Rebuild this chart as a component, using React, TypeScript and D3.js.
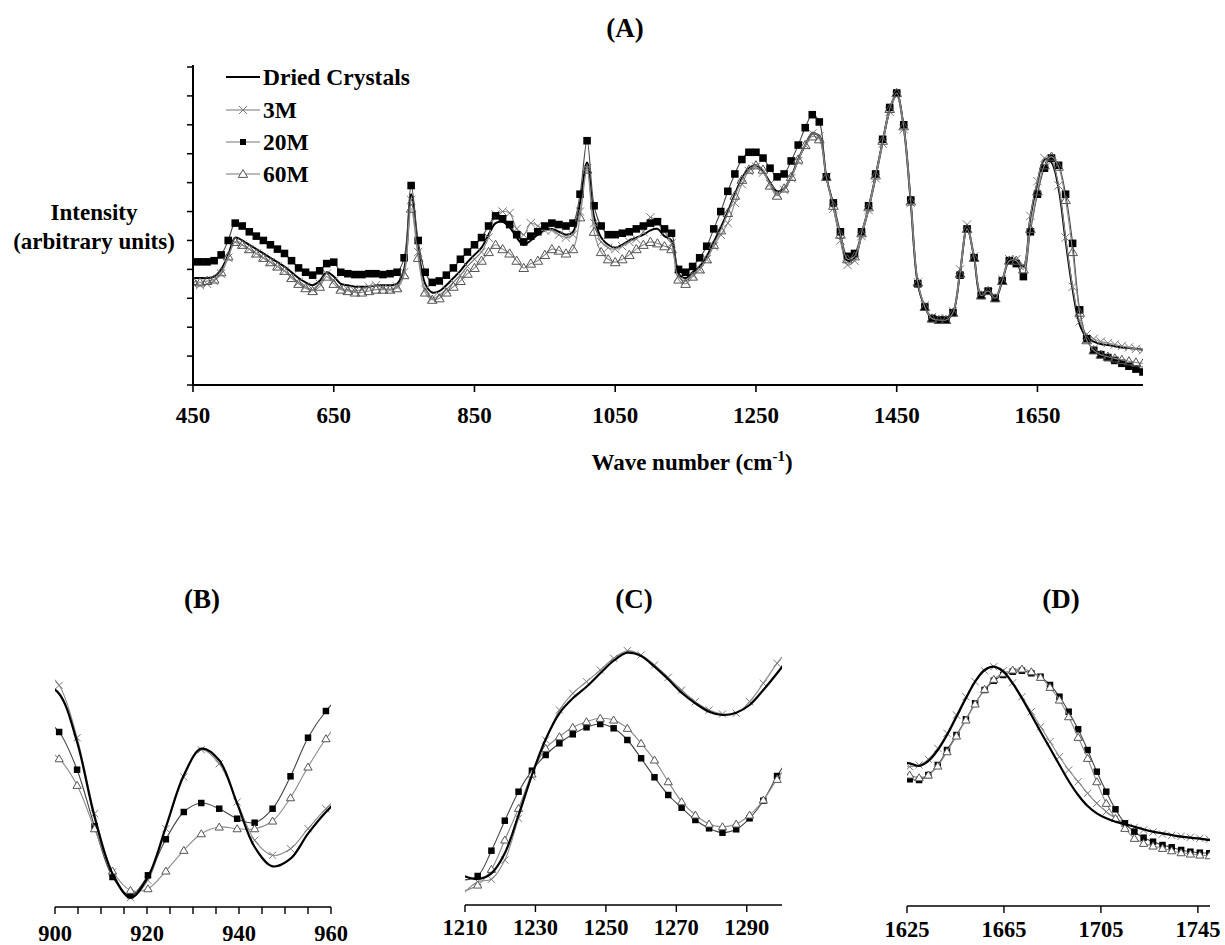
import React from 'react';
import * as d3 from 'd3';

// ---- panel A: full spectrum, one point every 10 cm-1 ----
const waveA = [450,460,470,480,490,500,510,520,530,540,550,560,570,580,590,600,610,620,630,640,650,660,670,680,690,700,710,720,730,740,750,760,770,780,790,800,810,820,830,840,850,860,870,880,890,900,910,920,930,940,950,960,970,980,990,1000,1010,1020,1030,1040,1050,1060,1070,1080,1090,1100,1110,1120,1130,1140,1150,1160,1170,1180,1190,1200,1210,1220,1230,1240,1250,1260,1270,1280,1290,1300,1310,1320,1330,1340,1350,1360,1370,1380,1390,1400,1410,1420,1430,1440,1450,1460,1470,1480,1490,1500,1510,1520,1530,1540,1550,1560,1570,1580,1590,1600,1610,1620,1630,1640,1650,1660,1670,1680,1690,1700,1710,1720,1730,1740,1750,1760,1770,1780,1790,1800];

const driedA = [
  3.7,3.7,3.7,3.75,4.0,4.5,5.1,5.0,4.85,4.7,
  4.55,4.4,4.25,4.1,3.9,3.7,3.55,3.45,3.6,3.9,
  3.75,3.5,3.45,3.4,3.4,3.4,3.45,3.45,3.45,3.5,
  4.0,6.6,4.7,3.5,3.2,3.25,3.45,3.7,3.95,4.25,
  4.5,4.75,5.2,5.6,5.65,5.45,5.1,4.85,5.0,5.2,
  5.35,5.4,5.3,5.2,5.3,6.3,7.7,5.8,5.1,4.85,
  4.75,4.85,5.0,5.1,5.2,5.35,5.4,5.15,5.0,3.85,
  3.7,3.9,4.1,4.45,4.95,5.45,6.0,6.6,7.15,7.5,
  7.6,7.4,7.0,6.7,6.8,7.2,7.8,8.3,8.7,8.6,
  7.2,6.2,5.1,4.3,4.4,5.2,6.1,7.2,8.4,9.5,
  10.05,8.9,6.3,3.5,2.7,2.3,2.25,2.25,2.5,3.9,
  5.45,4.4,3.1,3.2,3.0,3.6,4.3,4.3,4.1,5.8,
  7.0,7.8,7.7,6.8,5.0,3.3,2.1,1.65,1.5,1.42,
  1.38,1.34,1.3,1.28,1.25,1.22,
];
const m3A = [
  3.5,3.45,3.5,3.6,3.85,4.4,4.95,4.85,4.7,4.55,
  4.4,4.25,4.1,3.95,3.75,3.55,3.4,3.3,3.5,3.85,
  3.6,3.35,3.3,3.25,3.3,3.4,3.45,3.35,3.3,3.4,
  3.9,6.4,4.6,3.3,3.0,3.1,3.3,3.55,3.8,4.1,
  4.35,4.6,5.1,5.9,6.0,5.95,5.4,5.2,5.6,5.5,
  5.35,5.35,5.2,5.1,5.2,6.0,7.5,5.6,4.95,4.75,
  4.7,4.8,4.95,5.05,5.3,5.8,5.6,5.3,4.9,3.75,
  3.6,3.8,4.0,4.35,4.8,5.2,5.6,6.3,6.95,7.4,
  7.55,7.35,6.95,6.6,6.75,7.15,7.75,8.3,8.7,8.6,
  7.2,6.1,5.0,4.15,4.3,5.15,6.05,7.15,8.35,9.45,
  10.0,8.85,6.3,3.55,2.75,2.35,2.3,2.3,2.55,4.0,
  5.55,4.45,3.15,3.2,3.05,3.65,4.35,4.35,4.15,5.85,
  7.05,7.85,7.75,6.9,5.1,3.4,2.2,1.75,1.6,1.5,
  1.45,1.4,1.35,1.3,1.25,1.2,
];
const m20A = [
  4.26,4.26,4.26,4.3,4.5,5.0,5.6,5.5,5.3,5.15,
  5.0,4.85,4.7,4.55,4.3,4.05,3.9,3.8,3.95,4.2,
  4.25,3.9,3.85,3.82,3.82,3.85,3.85,3.82,3.85,3.9,
  4.4,6.9,5.0,3.9,3.55,3.6,3.8,4.05,4.35,4.6,
  4.85,5.1,5.5,5.85,5.75,5.55,5.2,4.95,5.15,5.3,
  5.5,5.6,5.55,5.5,5.6,6.6,8.45,6.2,5.5,5.2,
  5.2,5.25,5.3,5.4,5.5,5.6,5.65,5.4,5.25,4.0,
  3.9,4.1,4.4,4.8,5.4,6.0,6.7,7.3,7.8,8.05,
  8.05,7.85,7.5,7.2,7.3,7.75,8.3,8.9,9.35,9.1,
  7.2,6.3,5.3,4.45,4.55,5.3,6.2,7.3,8.5,9.6,
  10.1,9.0,6.4,3.5,2.7,2.3,2.25,2.25,2.5,3.8,
  5.4,4.4,3.1,3.25,3.0,3.6,4.3,4.2,3.75,5.3,
  6.6,7.5,7.85,7.6,6.6,4.9,2.6,1.6,1.2,1.05,
  0.95,0.85,0.75,0.65,0.55,0.45,
];
const m60A = [
  3.6,3.55,3.6,3.65,3.9,4.45,4.95,4.85,4.7,4.55,
  4.4,4.25,4.1,3.95,3.7,3.5,3.35,3.25,3.4,3.75,
  3.5,3.3,3.25,3.2,3.2,3.25,3.3,3.3,3.3,3.35,
  3.8,6.1,4.4,3.2,2.95,3.0,3.2,3.4,3.6,3.85,
  4.05,4.3,4.6,4.85,4.7,4.55,4.3,4.05,4.2,4.3,
  4.5,4.7,4.65,4.55,4.7,5.8,7.45,5.3,4.6,4.35,
  4.25,4.35,4.5,4.7,4.85,4.95,4.9,4.8,4.7,3.65,
  3.5,3.75,4.0,4.35,4.85,5.35,5.95,6.55,7.1,7.45,
  7.6,7.45,6.9,6.55,6.8,7.2,7.8,8.3,8.6,8.5,
  7.2,6.2,5.2,4.35,4.45,5.25,6.15,7.25,8.45,9.55,
  10.1,8.95,6.35,3.55,2.7,2.3,2.25,2.25,2.5,3.85,
  5.4,4.4,3.1,3.25,3.0,3.6,4.3,4.3,4.0,5.4,
  6.7,7.6,7.9,7.55,6.4,4.6,2.5,1.55,1.2,1.05,
  0.98,0.92,0.87,0.82,0.78,0.75,
];

// ---- panel B: 900-960 ----
const waveB = [897.1,900.9,904.8,908.6,912.5,916.4,920.2,924.1,928.0,931.8,935.7,939.6,943.4,947.3,951.2,955.0,958.9,962.8];
const driedB = [225,213.3,165,90,33.3,9.3,30,80,131.7,158.3,146.7,103.3,60,40.7,48.3,73.3,95,112];
const m3B = [238,221.7,169.3,93.3,35,9.3,26.7,78.3,130,157.3,143.3,105,66.7,51.7,58.3,78.3,98.3,115];
const m20B = [190,175,137.3,80.7,30,11.7,31.7,67.7,95,104,98.3,88.3,84.3,98.3,130.7,169.3,196,215];
const m60B = [160,148.3,121.7,78.3,36,16.7,18.3,36,56.7,73.3,80,78.3,78.3,86,109.3,140,168.3,190];

// ---- panel C: 1210-1300 ----
const waveC = [1209.7,1213.6,1217.5,1221.3,1225.2,1229.0,1232.9,1236.8,1240.6,1244.5,1248.4,1252.2,1256.1,1260.0,1263.8,1267.7,1271.5,1275.4,1279.3,1283.1,1287.0,1290.8,1294.7,1298.6,1302.5];
const driedC = [29,26,31.7,51.7,90,130,165.7,191.7,206.7,218.3,231.7,244.3,252.3,249,238.3,225.7,212.3,201.7,193.3,190,192.3,200,215,231.7,250];
const m3C = [12,23.3,25.7,45,86.7,128.3,165,195,211.7,223.3,235,246.7,254.3,250,240,227.7,215,203.3,195,191,191.7,203.3,221.7,241.7,258];
const m20C = [25,29,54.3,84.3,113.3,134.3,150,161.7,170.7,177.7,181,176.7,165,146.7,127.7,110,97.3,85,76.7,72.3,75.7,86.7,104.3,129,150];
const m60C = [14,20,35.7,65,96.7,131,156.7,168.3,177.7,183.3,186.7,185,176.7,161.7,145,123.3,103.3,90,81,78.3,81,90,105,125.7,145];

// ---- panel D: 1625-1750 ----
const waveD = [1622.2,1626.1,1630.0,1633.8,1637.7,1641.5,1645.4,1649.3,1653.1,1657.0,1660.8,1664.7,1668.6,1672.4,1676.3,1680.1,1684.0,1687.9,1691.7,1695.6,1699.5,1703.3,1707.2,1711.0,1714.9,1718.8,1722.6,1726.5,1730.4,1734.2,1738.1,1741.9,1745.8,1749.7,1753.5];
const driedD = [144,142.7,140,145,156,171,189.3,207.7,224.3,236,239.3,234.3,222.7,207.7,191,174.3,157.7,141,125,111,100,92.7,87.7,84.3,82,79.3,76.7,74.3,72.7,71,69.3,68.3,67.3,66,65];
const m3D = [140,139.3,141,146.7,157.7,172.7,191,209.3,224.3,235.3,239.3,235.3,223.3,209.3,194.3,179.3,164.3,149.3,136,124.3,112.7,102.7,94.3,87.7,82.7,78.7,76,74,72,70.7,69.7,68.7,67.7,66.7,66];
const m20D = [127,126.7,126,131,141,156,171,186.7,202.7,216,225.3,231,234.3,235.3,232.7,229.3,221,209.3,194.3,176.7,156,134.3,114.3,96.7,82.7,74.3,68.3,64.3,61,58.7,56,54.3,53.3,52.7,52];
const m60D = [133,131,128.3,131,140,154.3,170,186,202,216.7,226.7,232.7,236,237,234.3,228.7,218.7,206,189.3,168.7,147.7,124.3,102.7,87.7,77.7,67.7,62.7,60,57.7,55.3,53.3,52,51,50.3,50];

const tickLabelsA = [450, 650, 850, 1050, 1250, 1450, 1650];
const seriesNames = ['Dried Crystals', '3M', '20M', '60M'];

const FONT = "'Liberation Serif', 'DejaVu Serif', 'Times New Roman', serif";

type Kind = 'dried' | 'm3' | 'm20' | 'm60';

function Marker({ kind, x, y, s, big }: { kind: Kind; x: number; y: number; s: number; big?: boolean }) {
  if (kind === 'm3') {
    return <path d={`M${x - s},${y - s}L${x + s},${y + s}M${x - s},${y + s}L${x + s},${y - s}`} stroke="#7a7a7a" strokeWidth={1} fill="none" />;
  }
  if (kind === 'm20') {
    return <rect x={x - s} y={y - s} width={2 * s} height={2 * s} fill="#000" />;
  }
  if (kind === 'm60') {
    return <path d={`M${x},${y - s * 1.1}L${x + s * 1.15},${y + s * 0.85}L${x - s * 1.15},${y + s * 0.85}Z`} stroke="#555" strokeWidth={1} fill={big ? '#fff' : 'none'} />;
  }
  return null;
}

const lineStyle: Record<Kind, { stroke: string; width: number }> = {
  dried: { stroke: '#000', width: 2 },
  m3: { stroke: '#8a8a8a', width: 1.1 },
  m20: { stroke: '#444', width: 1.1 },
  m60: { stroke: '#8a8a8a', width: 1.1 },
};

interface PanelProps {
  id: string;
  wave: number[];
  series: { kind: Kind; values: number[] }[];
  x: d3.ScaleLinear<number, number>;
  y: d3.ScaleLinear<number, number>;
  ms: number;
  big?: boolean;
}

function Curves({ id, wave, series, x, y, ms, big }: PanelProps) {
  const [x0, x1] = x.domain();
  const r = x.range();
  const top = y.range()[1] - 40;
  const bottom = y.range()[0];
  const line = d3
    .line<number>()
    .x((_, i) => x(wave[i]))
    .y((d) => y(d))
    .curve(d3.curveCatmullRom.alpha(0.5));
  const order: Kind[] = big ? ['m3', 'm20', 'm60', 'dried'] : ['dried', 'm3', 'm20', 'm60'];
  return (
    <g>
      <defs>
        <clipPath id={id}>
          <rect x={r[0]} y={top} width={r[1] - r[0]} height={bottom - top} />
        </clipPath>
      </defs>
      <g clipPath={`url(#${id})`}>
        {order.map((k) => {
          const s = series.find((q) => q.kind === k)!;
          const st = lineStyle[k];
          const sz = k === 'm20' ? ms * 0.9 : ms;
          return (
            <g key={k}>
              <path d={line(s.values) || ''} fill="none" stroke={st.stroke} strokeWidth={big && k === 'dried' ? 2.2 : st.width} />
              {s.values.map((v, i) =>
                wave[i] >= x0 && wave[i] <= x1 ? <Marker key={i} kind={k} x={x(wave[i])} y={y(v)} s={sz} big={big} /> : null
              )}
            </g>
          );
        })}
      </g>
    </g>
  );
}

function SubAxis({ x, axisY, labels, minor, labelY }: { x: d3.ScaleLinear<number, number>; axisY: number; labels: number[]; minor: number[]; labelY: number }) {
  const r = x.range();
  return (
    <g>
      <line x1={r[0]} x2={r[1]} y1={axisY} y2={axisY} stroke="#000" strokeWidth={1.6} />
      {minor.map((t) => (
        <line key={t} x1={x(t)} x2={x(t)} y1={axisY} y2={axisY + 7} stroke="#000" strokeWidth={1.4} />
      ))}
      {labels.map((t) => (
        <text key={t} x={x(t)} y={labelY} textAnchor="middle" style={{ fontFamily: FONT }} fontWeight="bold" fontSize={22.5}>
          {t}
        </text>
      ))}
    </g>
  );
}

export default function App() {
  // panel A scales
  const xA = d3.scaleLinear().domain([450, 1800]).range([193, 1143]);
  const yA = d3.scaleLinear().domain([0, 11]).range([385, 67]);
  const yTicksA = d3.range(0, 12);

  const xB = d3.scaleLinear().domain([900, 960]).range([55, 331]);
  const yB = d3.scaleLinear().domain([0, 250]).range([907, 657]);
  const xC = d3.scaleLinear().domain([1210, 1300]).range([465, 782]);
  const yC = d3.scaleLinear().domain([0, 250]).range([905, 655]);
  const xD = d3.scaleLinear().domain([1625, 1750]).range([907, 1210]);
  const yD = d3.scaleLinear().domain([0, 250]).range([906, 656]);

  const legendY = [77, 110, 142, 174];
  const legendKinds: Kind[] = ['dried', 'm3', 'm20', 'm60'];
  const tf = { fontFamily: FONT };

  return (
    <svg width={1225} height={945} style={{ position: 'absolute', left: 0, top: 0, background: '#fff' }}>
      <rect width={1225} height={945} fill="#fff" />

      {/* ---- (A) ---- */}
      <text x={625} y={37} textAnchor="middle" style={tf} fontWeight="bold" fontSize={27}>(A)</text>
      <Curves
        id="clipA"
        wave={waveA}
        series={[
          { kind: 'dried', values: driedA },
          { kind: 'm3', values: m3A },
          { kind: 'm20', values: m20A },
          { kind: 'm60', values: m60A },
        ]}
        x={xA}
        y={yA}
        ms={4.2}
      />
      <line x1={193} x2={193} y1={65} y2={385} stroke="#000" strokeWidth={2} />
      {yTicksA.map((t) => (
        <line key={t} x1={187} x2={193} y1={yA(t)} y2={yA(t)} stroke="#000" strokeWidth={1.5} />
      ))}
      <line x1={192} x2={1143} y1={385} y2={385} stroke="#000" strokeWidth={2.2} />
      {tickLabelsA.map((t) => (
        <g key={t}>
          <line x1={xA(t)} x2={xA(t)} y1={385} y2={392} stroke="#000" strokeWidth={1.6} />
          <text x={xA(t)} y={423} textAnchor="middle" style={tf} fontWeight="bold" fontSize={23}>{t}</text>
        </g>
      ))}
      <text x={692} y={470} textAnchor="middle" style={tf} fontWeight="bold" fontSize={23}>
        Wave number (cm<tspan fontSize={15} dy={-9}>-1</tspan><tspan dy={9}>)</tspan>
      </text>
      <text x={94} y={220} textAnchor="middle" style={tf} fontWeight="bold" fontSize={23}>Intensity</text>
      <text x={94} y={249} textAnchor="middle" style={tf} fontWeight="bold" fontSize={23}>(arbitrary units)</text>

      {/* legend */}
      {legendKinds.map((k, i) => (
        <g key={k}>
          <line x1={226} x2={260} y1={legendY[i]} y2={legendY[i]} stroke={k === 'dried' ? '#000' : '#777'} strokeWidth={k === 'dried' ? 2 : 1.2} />
          <Marker kind={k} x={243} y={legendY[i]} s={k === 'm20' ? 3 : 4} big />
          <text x={263} y={legendY[i] + 8} style={tf} fontWeight="bold" fontSize={23.5}>{seriesNames[i]}</text>
        </g>
      ))}

      {/* ---- (B) ---- */}
      <text x={202} y={608} textAnchor="middle" style={tf} fontWeight="bold" fontSize={27}>(B)</text>
      <Curves
        id="clipB"
        wave={waveB}
        series={[
          { kind: 'dried', values: driedB },
          { kind: 'm3', values: m3B },
          { kind: 'm20', values: m20B },
          { kind: 'm60', values: m60B },
        ]}
        x={xB}
        y={yB}
        ms={3.6}
        big
      />
      <SubAxis x={xB} axisY={907} labels={[900, 920, 940, 960]} minor={d3.range(900, 961, 5)} labelY={941} />

      {/* ---- (C) ---- */}
      <text x={634} y={608} textAnchor="middle" style={tf} fontWeight="bold" fontSize={27}>(C)</text>
      <Curves
        id="clipC"
        wave={waveC}
        series={[
          { kind: 'dried', values: driedC },
          { kind: 'm3', values: m3C },
          { kind: 'm20', values: m20C },
          { kind: 'm60', values: m60C },
        ]}
        x={xC}
        y={yC}
        ms={3.6}
        big
      />
      <SubAxis x={xC} axisY={905} labels={[1210, 1230, 1250, 1270, 1290]} minor={[1210, 1230, 1250, 1270, 1290]} labelY={935} />

      {/* ---- (D) ---- */}
      <text x={1061} y={608} textAnchor="middle" style={tf} fontWeight="bold" fontSize={27}>(D)</text>
      <Curves
        id="clipD"
        wave={waveD}
        series={[
          { kind: 'dried', values: driedD },
          { kind: 'm3', values: m3D },
          { kind: 'm20', values: m20D },
          { kind: 'm60', values: m60D },
        ]}
        x={xD}
        y={yD}
        ms={3.6}
        big
      />
      <SubAxis x={xD} axisY={906} labels={[1625, 1665, 1705, 1745]} minor={[1625, 1665, 1705, 1745]} labelY={937} />
    </svg>
  );
}
